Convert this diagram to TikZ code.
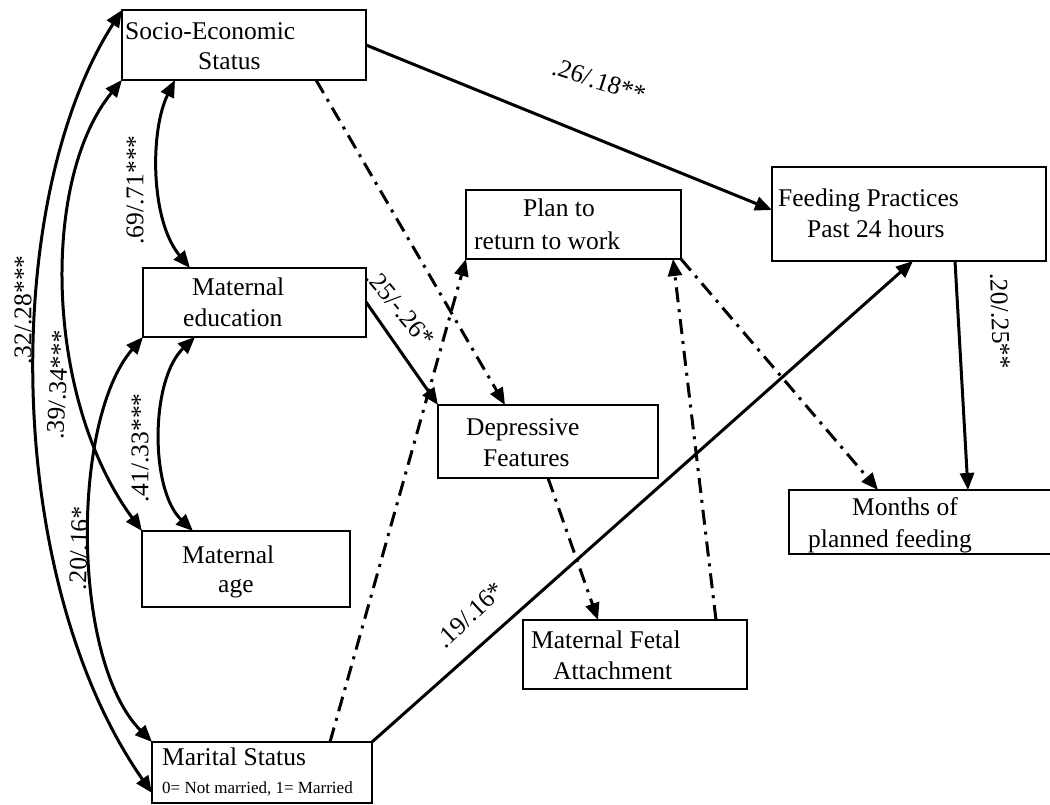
\documentclass[tikz,border=0pt]{standalone}
\usepackage{fontspec}
\setmainfont{Liberation Serif}
\usetikzlibrary{arrows.meta,calc}
\begin{document}
\begin{tikzpicture}[x=1pt,y=-1pt,
  box/.style={draw, line width=1.5pt, inner sep=0pt, outer sep=0pt},
  txt/.style={anchor=base west, inner sep=0pt, font=\fontsize{25.5}{30}\selectfont},
  small/.style={anchor=base west, inner sep=0pt, font=\fontsize{17}{20}\selectfont},
  lbl/.style={inner sep=0pt, font=\fontsize{25.5}{30}\selectfont},
  tip/.style={-{Triangle[length=17pt,width=14pt]}},
  both/.style={{Triangle[length=17pt,width=14pt]}-{Triangle[length=17pt,width=14pt]}},
  path/.style={line width=3pt},
  dashdot/.style={line width=3pt, dash pattern=on 15pt off 7pt on 3pt off 7pt}]
\useasboundingbox (0,0) rectangle (1050,805);

% boxes
\node[box, minimum width=244, minimum height=70] (ses)  at (244,45) {};
\node[box, minimum width=223, minimum height=69] (me)   at (254.5,302.5) {};
\node[box, minimum width=208, minimum height=76] (ma)   at (246,569) {};
\node[box, minimum width=220, minimum height=61] (mar)  at (262,772.5) {};
\node[box, minimum width=215, minimum height=69] (plan) at (573.5,224.5) {};
\node[box, minimum width=274, minimum height=94] (feed) at (909,214) {};
\node[box, minimum width=220, minimum height=73] (df)   at (548,441.5) {};
\node[box, minimum width=224, minimum height=69] (mfa)  at (635,654.5) {};
\node[box, minimum width=267, minimum height=64] (mon)  at (922.5,522) {};

% box texts
\node[txt] (sesA) at (125,40) {Socio-Economic};
\node[txt] (sesB) at (198,70) {Status};
\node[txt] (meA) at (192,295) {Maternal};
\node[txt] (meB) at (183,326) {education};
\node[txt] (maA) at (182,563) {Maternal};
\node[txt] (maB) at (218,592) {age};
\node[txt] (marA) at (162,765) {Marital Status};
\node[small] (marB) at (162,793) {0= Not married, 1= Married};
\node[txt] (planA) at (523,217) {Plan to};
\node[txt] (planB) at (474,250) {return to work};
\node[txt] (feedA) at (778,207) {Feeding Practices};
\node[txt] (feedB) at (807,238) {Past 24 hours};
\node[txt] (dfA) at (466,435) {Depressive};
\node[txt] (dfB) at (483,466) {Features};
\node[txt] (mfaA) at (531,648) {Maternal Fetal};
\node[txt] (mfaB) at (553,679) {Attachment};
\node[txt] (monA) at (852,515) {Months of};
\node[txt] (monB) at (808,547) {planned feeding};

% correlations (curved, two-headed)
\draw[path,both] (ses.north west) .. controls (0,200) and (3,580) .. ($(mar.north west)+(0,51)$);
\draw[path,both] (ses.south west) .. controls (40,180) and (45,400) .. (ma.north west);
\draw[path,both] ($(ses.south west)+(53,0)$) .. controls (150,130) and (150,220) .. ($(me.north west)+(47,0)$);
\draw[path,both] ($(me.south west)+(52,0)$) .. controls (150,380) and (150,490) .. ($(ma.north west)+(51,0)$);
\draw[path,both] (me.south west) .. controls (71,420) and (71,660) .. (mar.north west);

% significant paths
\draw[path,tip] (ses.east) -- ($(feed.north west)+(0,43)$);
\draw[path,tip] ($(me.north east)+(0,34)$) -- (df.north west);
\draw[path,tip] (mar.north east) -- ($(feed.south west)+(141,0)$);
\draw[path,tip] ($(feed.south west)+(183,0)$) -- ($(mon.north west)+(179,0)$);

% non-significant paths
\draw[dashdot,tip] ($(ses.south west)+(194,0)$) -- ($(df.north west)+(67,0)$);
\draw[dashdot,tip] ($(mar.north west)+(178,0)$) -- (plan.south west);
\draw[dashdot,tip] ($(mfa.north west)+(193,0)$) -- ($(plan.south east)+(-8,0)$);
\draw[dashdot,tip] (plan.south east) -- ($(mon.north west)+(89,0)$);
\draw[dashdot,tip] ($(df.south west)+(110,0)$) -- ($(mfa.north west)+(75,0)$);

% coefficients
\node[lbl, rotate=90] (l1) at (23,310) {.32/.28***};
\node[lbl, rotate=87] (l2) at (58,385) {.39/.34***};
\node[lbl, rotate=90] (l3) at (135,190) {.69/.71***};
\node[lbl, rotate=90] (l4) at (140,448) {.41/.33***};
\node[lbl, rotate=88] (l5) at (79,548) {.20/.16*};
\node[lbl, rotate=-18] (l6) at (599,81) {.26/.18**};
\node[lbl, rotate=-50] (l7) at (400,308) {.25/-.26*};
\node[lbl, rotate=-88] (l8) at (1000,321) {.20/.25**};
\node[lbl, rotate=43] (l9) at (470,615) {.19/.16*};
\end{tikzpicture}
\end{document}
